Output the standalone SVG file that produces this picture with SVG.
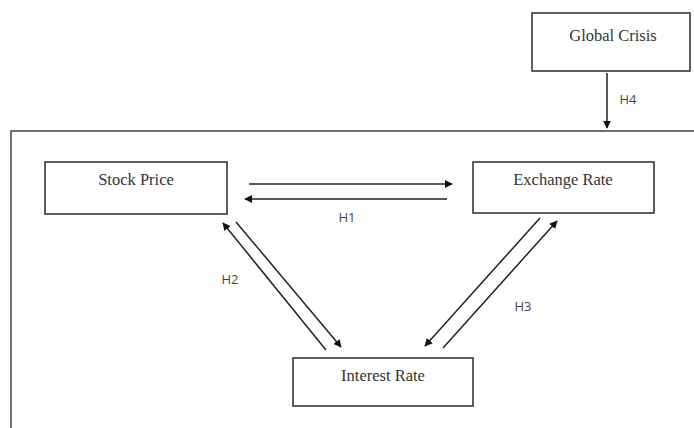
<svg xmlns="http://www.w3.org/2000/svg" width="694" height="428" viewBox="0 0 694 428">
<style>
.box{fill:#fff;stroke:#2a2a2a;stroke-width:1.5}
.t{font-family:"Liberation Serif",serif;font-size:16.5px;fill:#333;text-anchor:middle}
.h{font-family:"Open Sans","Liberation Sans",sans-serif;font-size:13px;fill:#444;text-anchor:middle}
.c{stroke:#222;stroke-width:1.5;fill:none;marker-end:url(#ah)}
</style>
<defs>
<marker id="ah" viewBox="0 0 10 10" refX="9" refY="5" markerWidth="8" markerHeight="8" markerUnits="userSpaceOnUse" orient="auto">
<path d="M0,0 L10,5 L0,10 z" fill="#111"/>
</marker>
</defs>
<rect x="11" y="131" width="700" height="320" fill="none" stroke="#444" stroke-width="1.5"/>
<g id="global-crisis"><rect class="box" x="532" y="13" width="158" height="58"/><text class="t" x="613" y="41">Global Crisis</text></g>
<g id="stock-price"><rect class="box" x="45" y="162" width="182" height="52"/><text class="t" x="136" y="185">Stock Price</text></g>
<g id="exchange-rate"><rect class="box" x="473" y="162" width="181" height="51"/><text class="t" x="563" y="185">Exchange Rate</text></g>
<g id="interest-rate"><rect class="box" x="293" y="358" width="180" height="48"/><text class="t" x="383" y="381">Interest Rate</text></g>
<g id="connectors">
<line class="c" x1="607" y1="73" x2="607" y2="128"/>
<line class="c" x1="249" y1="184" x2="452" y2="184"/>
<line class="c" x1="447" y1="199" x2="245" y2="199"/>
<line class="c" x1="326" y1="350" x2="223" y2="223"/>
<line class="c" x1="236" y1="222" x2="341" y2="347"/>
<line class="c" x1="540" y1="218" x2="425" y2="346"/>
<line class="c" x1="443" y1="348" x2="557" y2="221"/>
</g>
<text class="h" x="628" y="104">H4</text>
<text class="h" x="347" y="222">H1</text>
<text class="h" x="230" y="284">H2</text>
<text class="h" x="523" y="311">H3</text>
</svg>
